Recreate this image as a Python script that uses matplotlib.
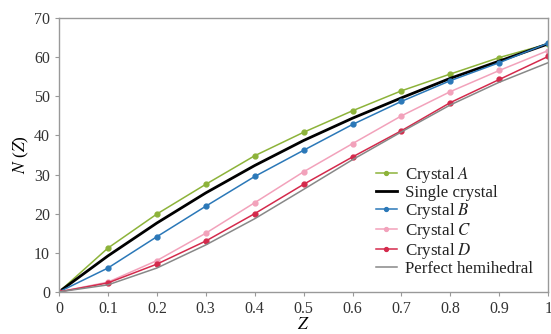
import numpy as np
import matplotlib.pyplot as plt

plt.rcParams['font.family'] = ['Liberation Serif', 'DejaVu Serif']
plt.rcParams['mathtext.fontset'] = 'stix'

z = [0, 0.1, 0.2, 0.3, 0.4, 0.5, 0.6, 0.7, 0.8, 0.9, 1.0]
crystal_a = [0, 11.2, 19.9, 27.5, 34.8, 40.8, 46.3, 51.4, 55.7, 59.9, 63.4]
single = [0, 9.2, 17.6, 25.3, 32.3, 38.7, 44.4, 49.6, 54.6, 59.0, 63.4]
crystal_b = [0, 6.1, 14.1, 21.9, 29.5, 36.2, 42.8, 48.7, 54.0, 58.6, 63.6]
crystal_c = [0, 2.5, 8.0, 15.0, 22.8, 30.7, 37.9, 45.0, 51.2, 56.6, 61.7]
crystal_d = [0, 2.3, 7.1, 13.0, 20.0, 27.5, 34.5, 41.2, 48.4, 54.3, 60.2]
hemihedral = [0, 1.8, 6.1, 12.0, 18.7, 26.2, 33.8, 40.9, 47.8, 53.6, 58.6]

fig = plt.figure(figsize=(5.51, 3.34), dpi=100)
ax = fig.add_axes([0.107, 0.126, 0.888, 0.82])

ax.plot(z, crystal_a, color='#8db33a', lw=1.1, marker='o', ms=3.5, label='Crystal $\\it{A}$')
ax.plot(z, single, color='black', lw=2.0, label='Single crystal')
ax.plot(z, crystal_b, color='#2b78b8', lw=1.1, marker='o', ms=3.5, label='Crystal $\\it{B}$')
ax.plot(z, crystal_c, color='#f2a2bb', lw=1.1, marker='o', ms=3.5, label='Crystal $\\it{C}$')
ax.plot(z, crystal_d, color='#d42a4c', lw=1.1, marker='o', ms=3.5, label='Crystal $\\it{D}$')
ax.plot(z, hemihedral, color='#888888', lw=1.1, label='Perfect hemihedral')

ax.set_xlim(0, 1)
ax.set_ylim(0, 70)
ax.set_xticks(z)
ax.set_xticklabels(['0', '0.1', '0.2', '0.3', '0.4', '0.5', '0.6', '0.7', '0.8', '0.9', '1'])
ax.set_yticks(range(0, 71, 10))
for s in ax.spines.values():
    s.set_color('#999999')
    s.set_linewidth(1.0)
ax.tick_params(colors='#999999', labelcolor='#333333', labelsize=11.5, length=3, width=0.8)

ax.set_xlabel('$\\it{Z}$', fontsize=12.5, labelpad=0)
ax.set_ylabel('$\\it{N}$ ($\\it{Z}$)', fontsize=12.5, labelpad=2)

leg = ax.legend(loc='lower right', bbox_to_anchor=(1.0, 0.0), frameon=False, fontsize=12.2,
                handlelength=1.2, handletextpad=0.5, labelspacing=0.0, borderaxespad=0.5,
                markerscale=0.8)
for t in leg.get_texts():
    t.set_color('#222222')

fig.savefig('out.png', dpi=100)
